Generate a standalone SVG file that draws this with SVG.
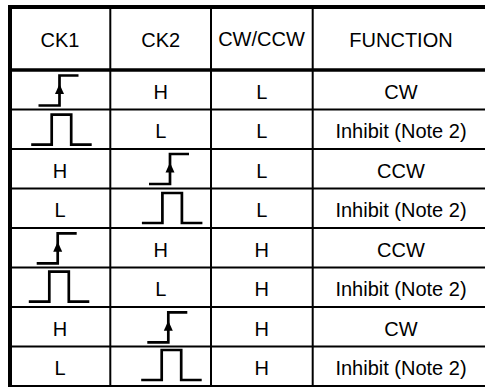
<svg xmlns="http://www.w3.org/2000/svg" xmlns:xlink="http://www.w3.org/1999/xlink" width="485" height="387" viewBox="0 0 485 387">
<style>
  .t { font-family: "Liberation Sans", Arial, sans-serif; font-size: 20px; fill: #000; text-anchor: middle; }
  .thin { stroke: #000; stroke-width: 2; fill: none; }
  .thick { stroke: #000; stroke-width: 4; fill: none; }
  .hdr { stroke: #000; stroke-width: 3.6; fill: none; }
  .wave { stroke: #000; stroke-width: 2.7; fill: none; stroke-linejoin: miter; }
</style>
<defs>
  <g id="rise">
    <path class="wave" d="M-21,30 H0 V0 H19"/>
    <polygon points="0,8.5 -4.5,18.5 4.5,18.5" fill="#000"/>
  </g>
  <g id="pulse">
    <path class="wave" d="M-20.5,30 H0 V0 H19.5 V30 H40"/>
  </g>
</defs>
<rect width="485" height="387" fill="#fff"/>
<g id="grid">
  <line class="thin" x1="110.3" y1="7" x2="110.3" y2="387"/>
  <line class="thin" x1="211" y1="7" x2="211" y2="387"/>
  <line class="thin" x1="312.7" y1="7" x2="312.7" y2="387"/>
  <line class="hdr" x1="10" y1="70" x2="490" y2="70"/>
  <line class="thin" x1="10" y1="109.5" x2="490" y2="109.5"/>
  <line class="thin" x1="10" y1="149" x2="490" y2="149"/>
  <line class="thin" x1="10" y1="188.5" x2="490" y2="188.5"/>
  <line class="thin" x1="10" y1="228" x2="490" y2="228"/>
  <line class="thin" x1="10" y1="267.5" x2="490" y2="267.5"/>
  <line class="thin" x1="10" y1="307" x2="490" y2="307"/>
  <line class="thin" x1="10" y1="346.5" x2="490" y2="346.5"/>
  <line class="thin" x1="10" y1="386" x2="490" y2="386"/>
  <line class="thick" x1="10" y1="5" x2="10" y2="387"/>
  <line class="thick" x1="8" y1="7" x2="490" y2="7"/>
</g>
<g id="header">
  <text class="t" x="60" y="47">CK1</text>
  <text class="t" x="160.7" y="47">CK2</text>
  <text class="t" x="261.5" y="46">CW/CCW</text>
  <text class="t" x="401" y="47">FUNCTION</text>
</g>
<g id="row1">
  <use xlink:href="#rise" href="#rise" transform="translate(59.5,75.5)"/>
  <text class="t" x="160.7" y="98.5">H</text>
  <text class="t" x="261.7" y="98.5">L</text>
  <text class="t" x="401" y="98.5">CW</text>
</g>
<g id="row2">
  <use xlink:href="#pulse" href="#pulse" transform="translate(51.7,114.7)"/>
  <text class="t" x="160.7" y="138">L</text>
  <text class="t" x="261.7" y="138">L</text>
  <text class="t" x="401" y="138">Inhibit (Note 2)</text>
</g>
<g id="row3">
  <text class="t" x="60" y="177.5">H</text>
  <use xlink:href="#rise" href="#rise" transform="translate(170,154)"/>
  <text class="t" x="261.7" y="177.5">L</text>
  <text class="t" x="401" y="177.5">CCW</text>
</g>
<g id="row4">
  <text class="t" x="60" y="217">L</text>
  <use xlink:href="#pulse" href="#pulse" transform="translate(162.4,193)"/>
  <text class="t" x="261.7" y="217">L</text>
  <text class="t" x="401" y="217">Inhibit (Note 2)</text>
</g>
<g id="row5">
  <use xlink:href="#rise" href="#rise" transform="translate(57.7,233.3)"/>
  <text class="t" x="160.7" y="256.5">H</text>
  <text class="t" x="261.7" y="256.5">H</text>
  <text class="t" x="401" y="256.5">CCW</text>
</g>
<g id="row6">
  <use xlink:href="#pulse" href="#pulse" transform="translate(49.3,271.7)"/>
  <text class="t" x="160.7" y="296">L</text>
  <text class="t" x="261.7" y="296">H</text>
  <text class="t" x="401" y="296">Inhibit (Note 2)</text>
</g>
<g id="row7">
  <text class="t" x="60" y="335.5">H</text>
  <use xlink:href="#rise" href="#rise" transform="translate(168.3,312.3)"/>
  <text class="t" x="261.7" y="335.5">H</text>
  <text class="t" x="401" y="335.5">CW</text>
</g>
<g id="row8">
  <text class="t" x="60" y="375">L</text>
  <use xlink:href="#pulse" href="#pulse" transform="translate(161.7,350)"/>
  <text class="t" x="261.7" y="375">H</text>
  <text class="t" x="401" y="375">Inhibit (Note 2)</text>
</g>
</svg>
